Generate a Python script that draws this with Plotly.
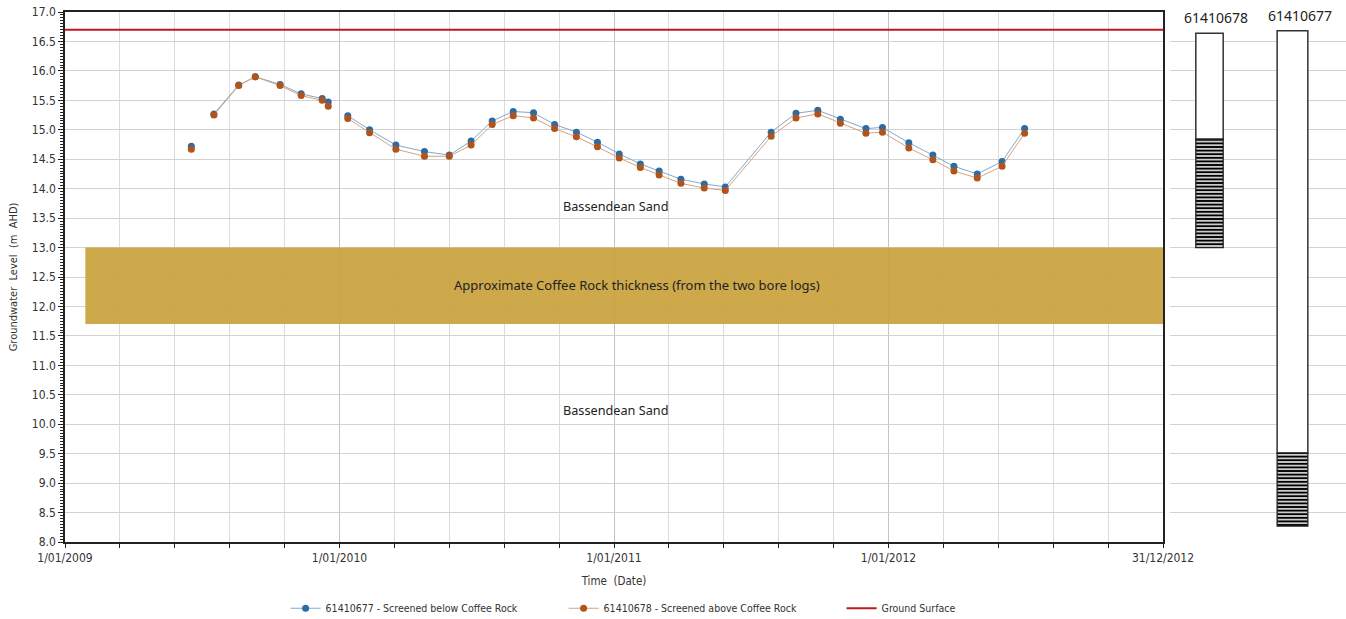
import numpy as np
import pandas as pd
import plotly.graph_objects as go

# ---- Monitoring data (m AHD) ----
dates = [
    "2009-06-18", "2009-07-18", "2009-08-20", "2009-09-11", "2009-10-14",
    "2009-11-11", "2009-12-09", "2009-12-17", "2010-01-12", "2010-02-10",
    "2010-03-17", "2010-04-24", "2010-05-27", "2010-06-25", "2010-07-23",
    "2010-08-20", "2010-09-16", "2010-10-14", "2010-11-12", "2010-12-10",
    "2011-01-08", "2011-02-05", "2011-03-02", "2011-03-31", "2011-05-01",
    "2011-05-29", "2011-07-29", "2011-08-31", "2011-09-29", "2011-10-29",
    "2011-12-02", "2011-12-24", "2012-01-28", "2012-02-29", "2012-03-28",
    "2012-04-28", "2012-05-31", "2012-06-30",
]
level_61410677 = [
    14.72, 15.27, 15.76, 15.90, 15.77, 15.61, 15.53, 15.47, 15.24, 15.00,
    14.74, 14.63, 14.57, 14.81, 15.15, 15.31, 15.29, 15.09, 14.96, 14.79,
    14.59, 14.42, 14.30, 14.16, 14.08, 14.03, 14.96, 15.28, 15.33, 15.18,
    15.02, 15.04, 14.78, 14.57, 14.38, 14.25, 14.46, 15.02,
]
level_61410678 = [
    14.67, 15.25, 15.75, 15.90, 15.75, 15.58, 15.50, 15.40, 15.19, 14.95,
    14.67, 14.55, 14.55, 14.74, 15.09, 15.24, 15.20, 15.02, 14.88, 14.71,
    14.52, 14.36, 14.23, 14.09, 14.01, 13.97, 14.89, 15.20, 15.27, 15.11,
    14.94, 14.96, 14.69, 14.49, 14.30, 14.18, 14.38, 14.94,
]
# the record is broken after these readings (no line drawn across)
record_breaks = [0, 7]

ground_surface = 16.7
coffee_rock_top = 13.0
coffee_rock_base = 11.7
coffee_rock_from = "2009-01-28"

# ---- Bore logs: casing top, screen top, screen base (m AHD) ----
bore_names = ["61410678", "61410677"]
bore_top = [16.64, 16.68]
screen_top = [14.84, 9.51]
screen_base = [13.0, 8.27]

x_start, x_end = "2009-01-01", "2012-12-31"
tick_vals = ["2009-01-01", "2010-01-01", "2011-01-01", "2012-01-01", "2012-12-31"]
tick_text = ["1/01/2009", "1/01/2010", "1/01/2011", "1/01/2012", "31/12/2012"]


def with_gaps(xs, ys, breaks):
    """Insert a blank reading after each break so the line is split there."""
    xo, yo = [], []
    for i, (x, y) in enumerate(zip(xs, ys)):
        xo.append(x)
        yo.append(y)
        if i in breaks and i + 1 < len(xs):
            mid = pd.Timestamp(x) + (pd.Timestamp(xs[i + 1]) - pd.Timestamp(x)) / 2
            xo.append(mid.strftime("%Y-%m-%d"))
            yo.append(None)
    return xo, yo


# minor grid: five equal divisions per year
minor_vals = []
for yr in range(2009, 2013):
    a = pd.Timestamp(f"{yr}-01-01").value
    b = pd.Timestamp(f"{yr + 1}-01-01").value
    for v in np.linspace(a, b, 6)[1:-1]:
        minor_vals.append(pd.Timestamp(int(v)).strftime("%Y-%m-%d %H:%M:%S"))

TICK_FONT = "Liberation Sans Narrow, Arial Narrow, DejaVu Sans Condensed, sans-serif"
TEXT_FONT = "Noto Sans, Open Sans, sans-serif"

fig = go.Figure()

x77, y77 = with_gaps(dates, level_61410677, record_breaks)
x78, y78 = with_gaps(dates, level_61410678, record_breaks)

fig.add_trace(go.Scatter(
    x=x77, y=y77, mode="lines+markers", connectgaps=False,
    name="61410677 - Screened below Coffee Rock",
    line=dict(color="#7FA9D3", width=1),
    marker=dict(color="#2D6BA3", size=7),
))
fig.add_trace(go.Scatter(
    x=x78, y=y78, mode="lines+markers", connectgaps=False,
    name="61410678 - Screened above Coffee Rock",
    line=dict(color="#D9A27A", width=1),
    marker=dict(color="#B0541B", size=7),
))
fig.add_trace(go.Scatter(
    x=[x_start, x_end], y=[ground_surface, ground_surface], mode="lines",
    name="Ground Surface", line=dict(color="#C0171F", width=2),
))

# Coffee Rock band (gridlines show faintly through it)
fig.add_shape(
    type="rect", xref="x", yref="y",
    x0=coffee_rock_from, x1=x_end, y0=coffee_rock_base, y1=coffee_rock_top,
    fillcolor="#C9A23C", opacity=0.92, line=dict(width=0), layer="between",
)

# Bore logs drawn on a side axis sharing the level scale
bore_pos = [0, 1]
widths = [0.33, 0.37]
fig.add_trace(go.Bar(
    x=bore_pos, y=[t - s for t, s in zip(bore_top, screen_top)], base=screen_top,
    width=widths, xaxis="x2", yaxis="y", showlegend=False, hoverinfo="skip",
    marker=dict(color="white", opacity=1, line=dict(color="#333333", width=1.5)),
))
fig.add_trace(go.Bar(
    x=bore_pos, y=[t - b for t, b in zip(screen_top, screen_base)], base=screen_base,
    width=widths, xaxis="x2", yaxis="y", showlegend=False, hoverinfo="skip",
    marker=dict(
        color="white", opacity=1,
        line=dict(color="#222222", width=1.3),
        pattern=dict(shape="-", fgcolor="black", bgcolor="white", fgopacity=1,
                     size=3.6, solidity=0.6),
    ),
))
for i, name in enumerate(bore_names):
    fig.add_annotation(
        x=bore_pos[i], y=bore_top[i], xref="x2", yref="y", text=name, showarrow=False,
        yanchor="bottom", yshift=4, xshift=[6, 8][i],
        font=dict(family=TEXT_FONT, size=14, color="#222222"),
    )

# Unit labels
fig.add_annotation(x="2011-01-03", y=13.71, text="Bassendean Sand", showarrow=False,
                   font=dict(family=TEXT_FONT, size=12.7, color="#222222"))
fig.add_annotation(x="2011-01-03", y=10.24, text="Bassendean Sand", showarrow=False,
                   font=dict(family=TEXT_FONT, size=12.7, color="#222222"))
fig.add_annotation(x="2011-02-01", y=12.36,
                   text="Approximate Coffee Rock thickness (from the two bore logs)",
                   showarrow=False, font=dict(family=TEXT_FONT, size=13, color="#222222"))

W, H = 1346, 619
fig.update_layout(
    width=W, height=H,
    margin=dict(l=0, r=0, t=12, b=77, autoexpand=False),
    paper_bgcolor="white", plot_bgcolor="white",
    barmode="overlay",
    font=dict(family=TICK_FONT, size=12, color="#333333"),
    xaxis=dict(
        type="date", domain=[65 / W, 1163 / W], range=[x_start, x_end],
        tickmode="array", tickvals=tick_vals, ticktext=tick_text,
        showgrid=True, gridcolor="#C4C4C4", gridwidth=1,
        showline=True, linecolor="#222222", linewidth=1.5, mirror=True,
        ticks="outside", ticklen=4, tickcolor="#222222",
        tickfont=dict(family=TICK_FONT, size=12, color="#333333"),
        minor=dict(tickmode="array", tickvals=minor_vals, showgrid=True,
                   gridcolor="#DCDCDC", gridwidth=1, ticks="outside", ticklen=4,
                   tickcolor="#222222"),
        title=dict(text="Time  (Date)", standoff=13,
                   font=dict(family=TICK_FONT, size=11.5, color="#333333")),
        automargin=False, zeroline=False,
    ),
    yaxis=dict(
        range=[8, 17], dtick=0.5, tick0=8, tickformat=".1f",
        showgrid=True, gridcolor="#D2D2D2", gridwidth=1,
        showline=True, linecolor="#222222", linewidth=1.5, mirror=True,
        ticks="outside", ticklen=5, tickcolor="#222222",
        tickfont=dict(family=TICK_FONT, size=12, color="#333333"),
        minor=dict(dtick=0.05, ticks="outside", ticklen=3, tickcolor="#222222", showgrid=False),
        title=dict(text="Groundwater  Level  (m  AHD)", standoff=12,
                   font=dict(family=TICK_FONT, size=11, color="#333333")),
        automargin=False, zeroline=False,
    ),
    xaxis2=dict(
        domain=[1170 / W, 1.0], anchor="y",
        range=[-0.476, 1.645], visible=False,
    ),
    legend=dict(
        orientation="h", x=0.522, xanchor="center", y=-0.125, yanchor="middle",
        font=dict(family=TICK_FONT, size=10.5, color="#333333"),
        entrywidth=233, entrywidthmode="pixels", itemwidth=30,
        bgcolor="rgba(0,0,0,0)",
    ),
    showlegend=True,
)

fig.write_html("out.html")
